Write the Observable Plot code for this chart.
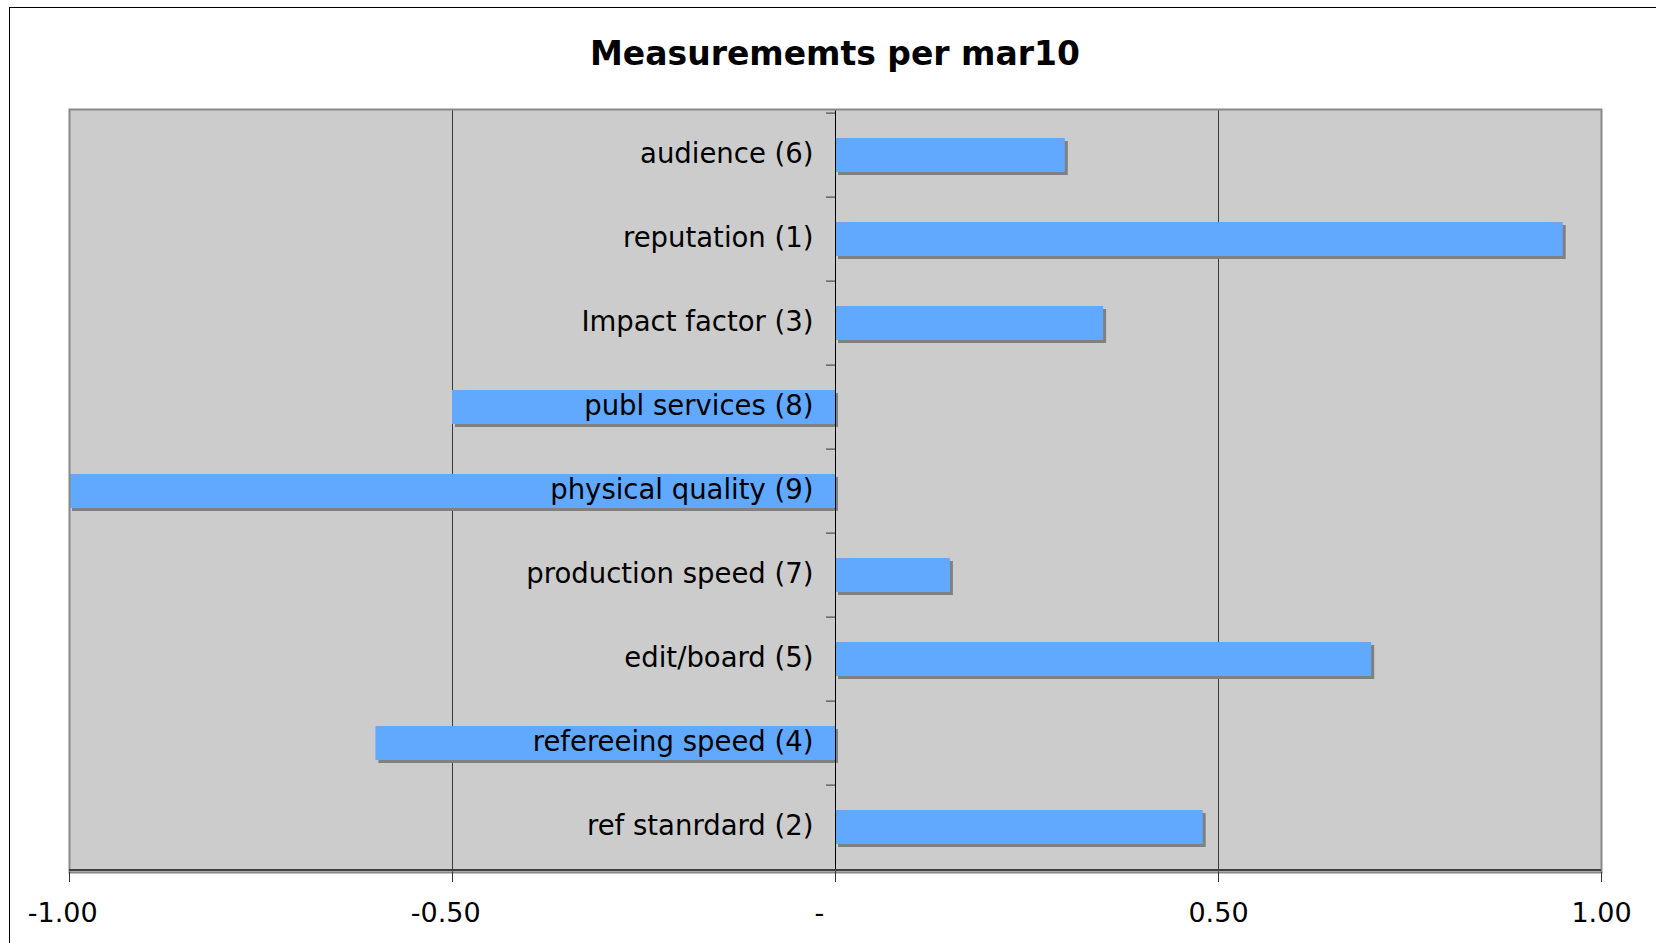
<!DOCTYPE html>
<html>
<head>
<meta charset="utf-8">
<script src="https://cdn.jsdelivr.net/npm/d3@7"></script>
<script src="https://cdn.jsdelivr.net/npm/@observablehq/plot@0.6"></script>
<style>
  html, body { margin: 0; padding: 0; background: #fff; overflow: hidden; }
  body { width: 1656px; height: 943px; position: relative; font-family: "DejaVu Sans", Verdana, sans-serif; }
  #border { position: absolute; left: 9px; top: 7px; width: 1700px; height: 1000px; border: 1px solid #000; box-sizing: border-box; }
  #title { position: absolute; left: 0; width: 1670px; top: 37px; text-align: center; font-weight: bold; font-size: 33px; line-height: 1; color: #000; }
  #chart { position: absolute; left: 0; top: 100px; }
</style>
</head>
<body>
<div id="border"></div>
<div id="title">Measurememts per mar10</div>
<div id="chart"></div>
<script>
const categories = ["audience (6)", "reputation (1)", "Impact factor (3)", "publ services (8)", "physical quality (9)", "production speed (7)", "edit/board (5)", "refereeing speed (4)", "ref stanrdard (2)"];
const values = [0.30, 0.95, 0.35, -0.50, -1.00, 0.15, 0.70, -0.60, 0.48];
const xTicks = [-1, -0.5, 0, 0.5, 1];
const xTickLabels = ["-1.00", "-0.50", "-", "0.50", "1.00"];

const data = categories.map((c, i) => ({category: c, value: values[i]}));

const W = 1656, H = 843;
const mTop = 9, mBottom = 71, mLeft = 69, mRight = 55;
const step = (H - mTop - mBottom) / categories.length;

function fmt(d) {
  const i = xTicks.indexOf(d);
  const s = i >= 0 ? xTickLabels[i] : String(d);
  if (d === 0) return s + "\u2003\u2009";
  if (d < 0) return s + "\u2002";
  return s;
}

const chart = Plot.plot({
  width: W,
  height: H,
  marginTop: mTop,
  marginBottom: mBottom,
  marginLeft: mLeft,
  marginRight: mRight,
  style: {fontFamily: "DejaVu Sans, Verdana, sans-serif", fontSize: "27px", background: "transparent", color: "#000", overflow: "visible"},
  x: {domain: [-1, 1], ticks: xTicks},
  y: {domain: categories, paddingInner: 0.6, paddingOuter: 0.3, axis: null},
  marks: [
    Plot.frame({fill: "#cccccc", stroke: null}),
    Plot.ruleX([-0.5, 0.5], {stroke: "#3a3a3a", strokeWidth: 1}),
    Plot.barX(data, {x: "value", y: "category", fill: "#808080", dx: 3, dy: 3}),
    Plot.barX(data, {x: "value", y: "category", fill: "#61a9ff"}),
    Plot.ruleX([0], {stroke: "#000", strokeWidth: 1}),
    Plot.frame({stroke: "#888888", strokeWidth: 2}),
    Plot.ruleY(categories, {y: d => d, x1: 0, x2: 0, insetLeft: -9, dy: -step / 2, stroke: "#333", strokeWidth: 1}),
    Plot.ruleY([categories[categories.length - 1]], {y: d => d, x1: -1, x2: 1, dy: step / 2, stroke: "#404040", strokeWidth: 2}),
    Plot.text(data, {x: 0, y: "category", text: "category", textAnchor: "end", dx: -22, dy: -1, fontSize: 27.5, fill: "#000"}),
    Plot.axisX({ticks: xTicks, tickFormat: fmt, tickSize: 10, tickPadding: 20, fontSize: 27, stroke: "#333", label: null})
  ]
});
document.getElementById("chart").appendChild(chart);
</script>
</body>
</html>
